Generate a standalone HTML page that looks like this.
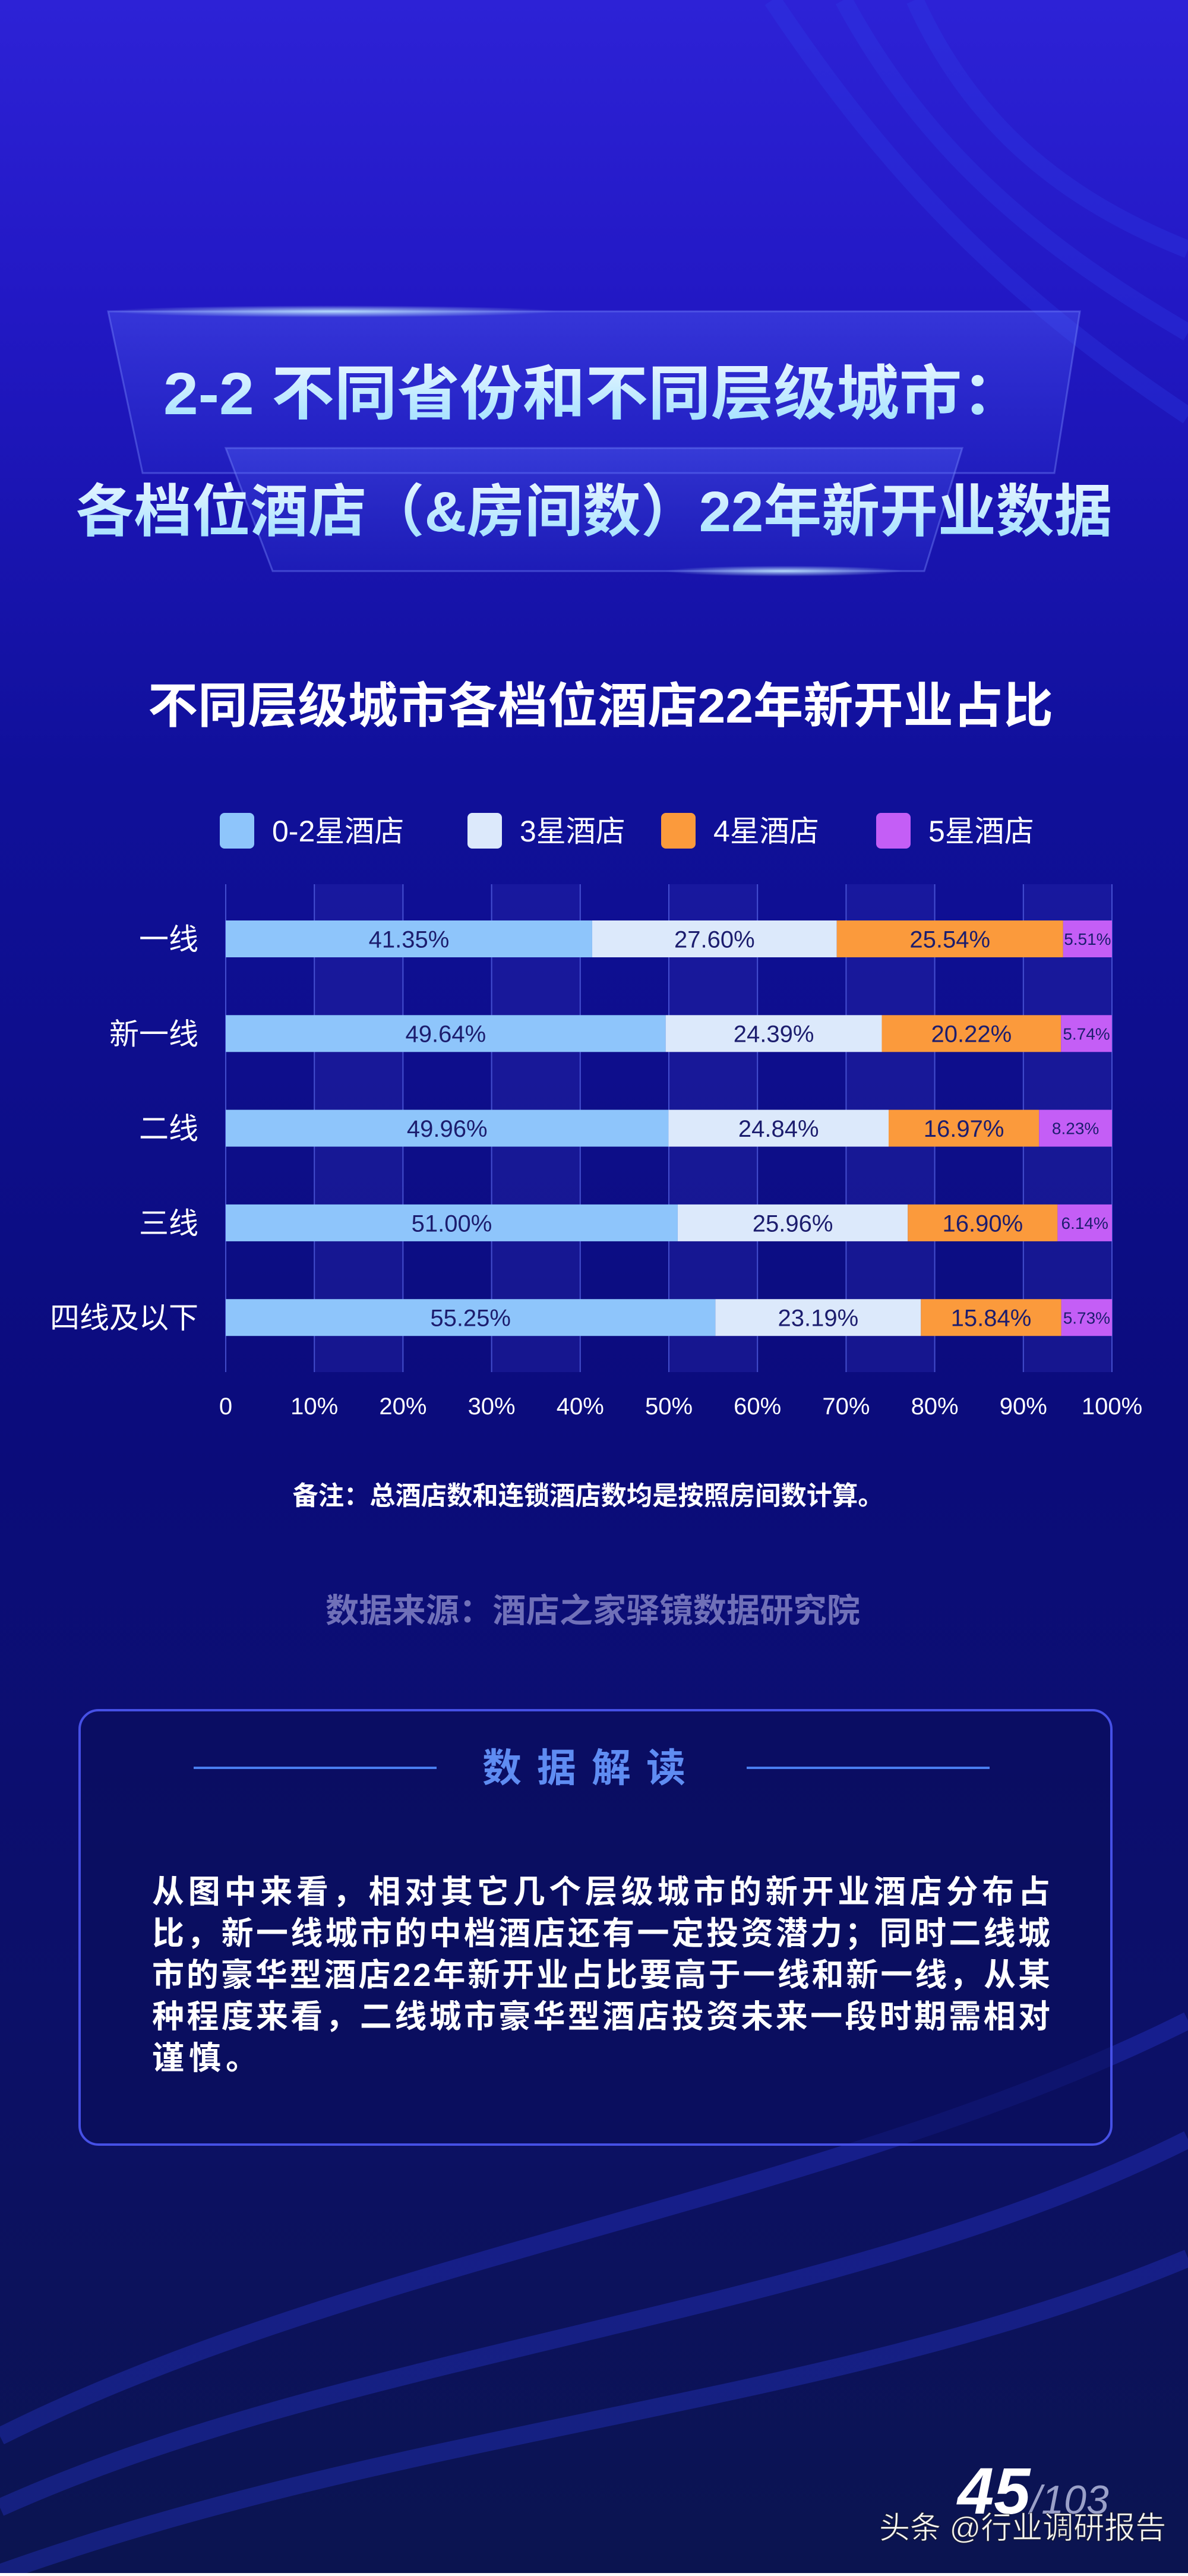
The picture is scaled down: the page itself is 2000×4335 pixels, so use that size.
<!DOCTYPE html>
<html><head><meta charset="utf-8">
<style>
html,body{margin:0;padding:0;}
body{width:2000px;height:4330px;overflow:hidden;font-family:"Liberation Sans","Noto Sans CJK SC",sans-serif;}
svg text{font-family:"Liberation Sans","Noto Sans CJK SC",sans-serif;}
</style></head>
<body>
<svg id="page" width="2000" height="4330" viewBox="0 0 2000 4330" xmlns="http://www.w3.org/2000/svg">
<defs>
<linearGradient id="bg" x1="0" y1="0" x2="0" y2="1">
<stop offset="0" stop-color="#2d22d6"/>
<stop offset="0.12" stop-color="#2218c4"/>
<stop offset="0.3" stop-color="#10109a"/>
<stop offset="0.55" stop-color="#0b0c7c"/>
<stop offset="0.8" stop-color="#0c1066"/>
<stop offset="1" stop-color="#0b1450"/>
</linearGradient>
<linearGradient id="panel" x1="0" y1="0" x2="0" y2="1">
<stop offset="0" stop-color="#5a6cff" stop-opacity="0.35"/>
<stop offset="1" stop-color="#3a4cf0" stop-opacity="0.15"/>
</linearGradient>
<linearGradient id="titleText" x1="0" y1="0" x2="0" y2="1">
<stop offset="0" stop-color="#e8f6ff"/>
<stop offset="1" stop-color="#9fe0ff"/>
</linearGradient>
<radialGradient id="glow" cx="0.5" cy="0.5" r="0.5">
<stop offset="0" stop-color="#bfe8ff" stop-opacity="0.9"/>
<stop offset="1" stop-color="#bfe8ff" stop-opacity="0"/>
</radialGradient>
</defs>
<rect x="0" y="0" width="2000" height="4330" fill="url(#bg)"/>
<g fill="none" stroke="#3040e8" stroke-opacity="0.3" stroke-width="30">
<path d="M1300 0 C1500 300 1700 500 2000 700"/>
<path d="M1420 0 C1560 260 1760 420 2000 560"/>
<path d="M1540 0 C1640 220 1800 340 2000 420"/>
<path d="M0 4100 C600 3800 1400 3700 2000 3400"/>
<path d="M0 4220 C600 3950 1400 3900 2000 3600"/>
<path d="M0 4330 C700 4080 1400 4050 2000 3800"/>
</g>
<g>
<polygon points="182,524 1818,524 1775,796 240,796" fill="url(#panel)" stroke="#7a8cff" stroke-opacity="0.4" stroke-width="3"/>
<polygon points="380,754 1620,754 1556,961 459,961" fill="url(#panel)" stroke="#7a8cff" stroke-opacity="0.4" stroke-width="3"/>
<ellipse cx="560" cy="524" rx="380" ry="10" fill="url(#glow)"/>
<ellipse cx="1320" cy="961" rx="200" ry="9" fill="url(#glow)"/>
<text x="1000" y="697" text-anchor="middle" font-size="100" font-weight="bold" fill="url(#titleText)" textLength="1450" lengthAdjust="spacingAndGlyphs">2-2 不同省份和不同层级城市：</text>
<text x="1000" y="894" text-anchor="middle" font-size="96" font-weight="bold" fill="url(#titleText)" textLength="1745" lengthAdjust="spacingAndGlyphs">各档位酒店（&amp;房间数）22年新开业数据</text>
</g>
<text x="1011" y="1216" text-anchor="middle" font-size="82" font-weight="bold" fill="#ffffff" textLength="1524" lengthAdjust="spacingAndGlyphs">不同层级城市各档位酒店22年新开业占比</text>
<g id="legend"></g>
<g id="chart"></g>
<text x="990" y="2532" text-anchor="middle" font-size="44" font-weight="bold" fill="#ffffff" textLength="995" lengthAdjust="spacingAndGlyphs">备注：总酒店数和连锁酒店数均是按照房间数计算。</text>
<text x="998" y="2730" text-anchor="middle" font-size="56" font-weight="bold" fill="#7070b8" textLength="900" lengthAdjust="spacingAndGlyphs">数据来源：酒店之家驿镜数据研究院</text>
<g>
<rect x="134" y="2878" width="1737" height="731" rx="32" fill="#0a0d5a" fill-opacity="0.6" stroke="#4650e6" stroke-width="4"/>
<line x1="326" y1="2975" x2="735" y2="2975" stroke="#4a7ef0" stroke-width="4"/>
<line x1="1257" y1="2975" x2="1666" y2="2975" stroke="#4a7ef0" stroke-width="4"/>
<text x="996" y="2998" text-anchor="middle" font-size="66" font-weight="bold" letter-spacing="26" fill="#5f8cf2">数据解读</text>
<g font-size="54" font-weight="bold" fill="#ffffff">
<text x="256" y="3202" textLength="1512" lengthAdjust="spacing">从图中来看，相对其它几个层级城市的新开业酒店分布占</text>
<text x="256" y="3272" textLength="1512" lengthAdjust="spacing">比，新一线城市的中档酒店还有一定投资潜力；同时二线城</text>
<text x="256" y="3342" textLength="1512" lengthAdjust="spacing">市的豪华型酒店22年新开业占比要高于一线和新一线，从某</text>
<text x="256" y="3412" textLength="1512" lengthAdjust="spacing">种程度来看，二线城市豪华型酒店投资未来一段时期需相对</text>
<text x="256" y="3482" letter-spacing="8">谨慎。</text>
</g>
</g>
<text x="1612" y="4230" font-size="110" font-style="italic" font-weight="bold" fill="#ffffff">45<tspan font-size="68" font-weight="normal" fill="#9aa0c8">/103</tspan></text>
<text x="1480" y="4272" font-size="52" fill="#ffffff" stroke="#000" stroke-width="1.5" stroke-opacity="0.5">头条 @行业调研报告</text>
</svg>
<script>
const categories = ["一线","新一线","二线","三线","四线及以下"];
const seriesNames = ["0-2星酒店","3星酒店","4星酒店","5星酒店"];
const s02 = [41.35,49.64,49.96,51.00,55.25];
const s3 = [27.60,24.39,24.84,25.96,23.19];
const s4 = [25.54,20.22,16.97,16.90,15.84];
const s5 = [5.51,5.74,8.23,6.14,5.73];
const ticks = [0,10,20,30,40,50,60,70,80,90,100];
const tickLabels = ["0","10%","20%","30%","40%","50%","60%","70%","80%","90%","100%"];

const NS = "http://www.w3.org/2000/svg";
const colors = ["#8ec5fb","#dce9fb","#fb9a3c","#c45ef6"];
const X0 = 380, X1 = 1872, TOP = 1488, BOT = 2309, Y0 = 1549, STEP = 159.3, BH = 62;
const xs = v => X0 + (X1 - X0) * v / 100;
const ys = i => Y0 + i * STEP;
function mk(tag, attrs, parent) {
  const e = document.createElementNS(NS, tag);
  for (const k in attrs) e.setAttribute(k, attrs[k]);
  parent.appendChild(e);
  return e;
}
const chart = document.getElementById("chart");
const legend = document.getElementById("legend");
for (let i = 0; i < ticks.length - 1; i++) {
  if (i % 2 === 1) {
    const b = mk("rect", {x: xs(ticks[i]), y: TOP, width: xs(ticks[i+1]) - xs(ticks[i]), height: BOT - TOP, fill: "#2a2cb0", "fill-opacity": "0.35"}, chart);
    
    
  }
}
ticks.forEach((t, i) => {
  const l = mk("line", {x1: xs(t), x2: xs(t), y1: TOP, y2: BOT, stroke: "#5a68e8", "stroke-width": 2, "stroke-opacity": 0.7}, chart);
  
  
  const tx = mk("text", {x: xs(t), y: 2380, "text-anchor": "middle", "font-size": 40, fill: "#ffffff"}, chart);
  tx.textContent = tickLabels[i];
  
  
});
const series = [s02, s3, s4, s5];
categories.forEach((c, i) => {
  const cl = mk("text", {x: 334, y: ys(i) + BH/2 + 18, "text-anchor": "end", "font-size": 50, fill: "#ffffff"}, chart);
  cl.textContent = c;
  
  
  let acc = 0;
  series.forEach((s, k) => {
    const v = s[i];
    const r = mk("rect", {x: xs(acc), y: ys(i), width: xs(acc + v) - xs(acc), height: BH, fill: colors[k]}, chart);
    
    
    const fs = k === 3 ? 28 : 40;
    const t = mk("text", {x: (xs(acc) + xs(acc + v)) / 2, y: ys(i) + BH/2 + fs*0.36, "text-anchor": "middle", "font-size": fs, fill: "#1c1d6e"}, chart);
    t.textContent = v.toFixed(2) + "%";
    
    
    acc += v;
  });
});
const legX = [370, 787, 1113, 1475];
seriesNames.forEach((n, k) => {
  const sw = mk("rect", {x: legX[k], y: 1368, width: 58, height: 60, rx: 8, fill: colors[k]}, legend);
  
  
  const t = mk("text", {x: legX[k] + 88, y: 1416, "font-size": 50, fill: "#ffffff"}, legend);
  t.textContent = n;
  
  
});
</script>
</body></html>
